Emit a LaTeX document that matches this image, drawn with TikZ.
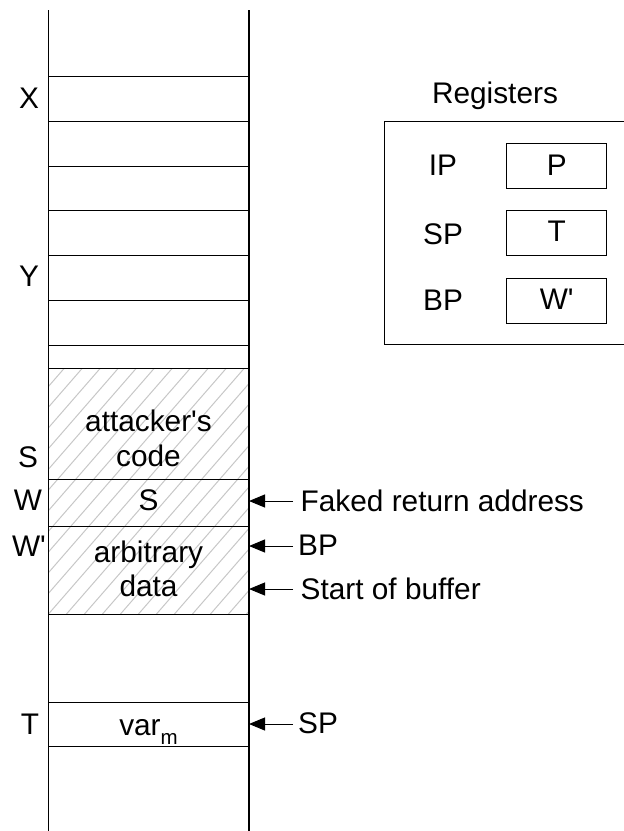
\documentclass[tikz,border=0pt]{standalone}
\usepackage{fontspec}
\setmainfont{Liberation Sans}[Ligatures=TeXOff]
\usetikzlibrary{arrows.meta}
\begin{document}
\begin{tikzpicture}[x=1pt,y=-1pt,
  txt/.style={font=\fontsize{29.8}{34}\selectfont, inner sep=0pt, anchor=base},
  cell/.style={draw=black, line width=1pt},
  colline/.style={draw=black, line width=1.2pt},
  hatchline/.style={draw=black!22, line width=1pt},
  ptr/.style={draw=black, line width=1pt, -{Triangle[length=16pt,width=13pt]}},
  regbox/.style={draw=black, line width=1pt, minimum width=100pt, minimum height=44.5pt,
    inner sep=0pt, text height=18pt, text depth=0pt, font=\fontsize{29.8}{34}\selectfont}]
\useasboundingbox (0,0) rectangle (624,831);

% hatching of the overwritten region
\begin{scope}
  \clip (48.5,368.5) rectangle (249,614);
  \foreach \i in {-14,...,12}
    \draw[hatchline] (48.5+\i*18,614) -- ++(214,-246);
\end{scope}

% stack cells
\foreach \y in {76,121,166,210.5,255.5,300,345,368.5,479,526.5,614,702,746.5}
  \draw[cell] (48.5,\y) -- (249,\y);
\draw[colline] (48.5,10) -- (48.5,831);
\draw[colline] (249,10) -- (249,831);

% address labels
\node[txt] (lx) at (29,108) {X};
\node[txt] (ly) at (29,286.7) {Y};
\node[txt] (ls) at (28,467) {S};
\node[txt] (lw) at (28,510) {W};
\node[txt] (lwp) at (29,556.7) {W'};
\node[txt] (lt) at (30,734) {T};

% cell contents
\node[txt] (code1) at (148.5,431.7) {attacker's};
\node[txt] (code2) at (148.5,466) {code};
\node[txt] (cs) at (148.5,510) {S};
\node[txt] (data1) at (148.5,562.7) {arbitrary};
\node[txt] (data2) at (148.5,596) {data};
\node[txt] (varm) at (148.5,735) {var\raisebox{-9pt}{\fontsize{20.5}{24}\selectfont m}};

% pointers
\node[txt, anchor=base west] (tfake) at (300.5,511.7) {Faked return address};
\node[txt, anchor=base west] (tbp) at (298,555) {BP};
\node[txt, anchor=base west] (tstart) at (300.5,599.3) {Start of buffer};
\node[txt, anchor=base west] (tsp) at (298,733.3) {SP};
\coordinate (fa) at (293,501);   \coordinate (fb) at (249,501);
\coordinate (ba) at (293,546);   \coordinate (bb) at (249,546);
\coordinate (sa) at (293,589);   \coordinate (sb) at (249,589);
\coordinate (pa) at (293,724);   \coordinate (pb) at (249,724);
\draw[ptr] (fa) -- (fb);
\draw[ptr] (ba) -- (bb);
\draw[ptr] (sa) -- (sb);
\draw[ptr] (pa) -- (pb);

% registers
\node[txt] (regt) at (495,103.3) {Registers};
\draw[cell] (624,121) -- (384,121) -- (384,344) -- (624,344);
\node[txt] (rip) at (443,175) {IP};
\node[txt] (rsp) at (443,244) {SP};
\node[txt] (rbp) at (443,310) {BP};
\node[regbox] (vp) at (556.7,166.2) {P};
\node[regbox] (vt) at (556.7,232.9) {T};
\node[regbox] (vw) at (556.7,300.8) {W'};
\end{tikzpicture}
\end{document}
